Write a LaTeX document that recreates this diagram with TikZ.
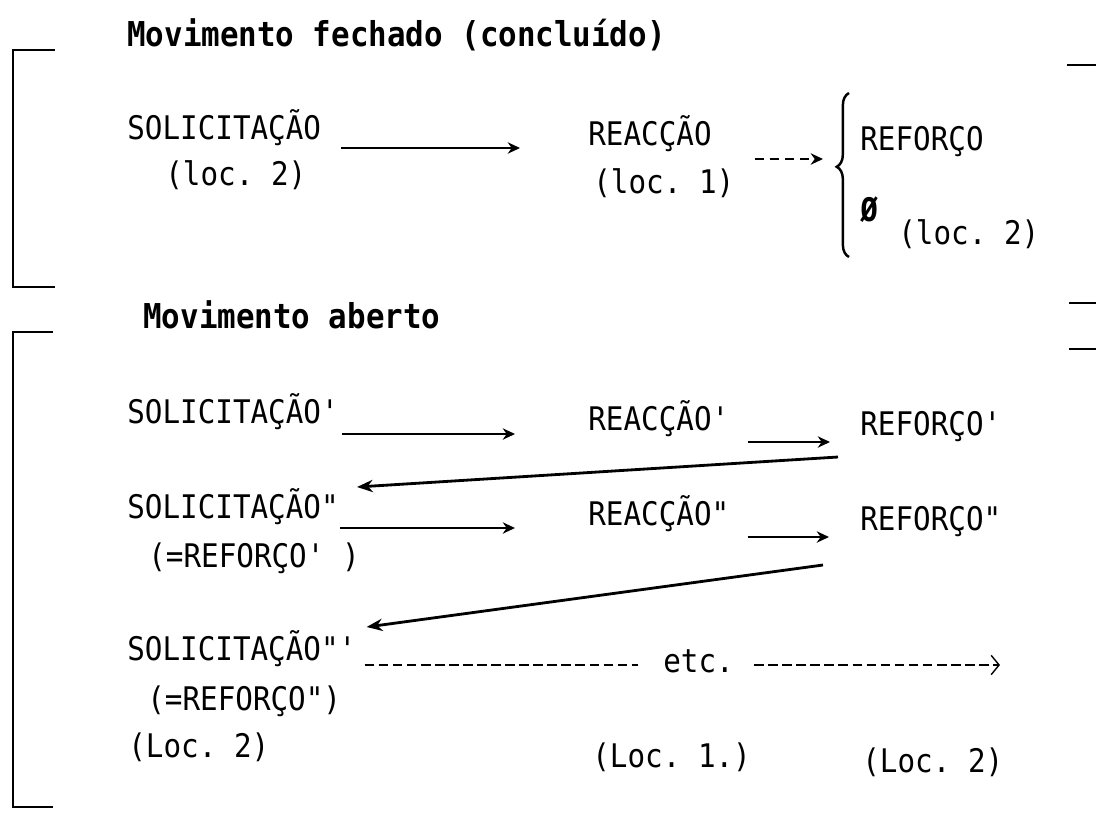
\documentclass[tikz,border=0pt]{standalone}
\usepackage{fontspec}
\setmonofont{DejaVu Sans Mono}[FakeStretch=0.9]
\usepackage{tikz}
\usetikzlibrary{arrows.meta,decorations.pathreplacing}

\begin{document}
\begin{tikzpicture}[x=0.02cm, y=-0.02cm, >=Stealth,
   font=\ttfamily\fontsize{18.5}{22}\selectfont,
   lbl/.style={anchor=base west, inner sep=0pt},
   hdr/.style={lbl, font=\ttfamily\bfseries\fontsize{19.5}{22}\selectfont},
   flow/.style={-{Stealth[length=7pt,width=6.5pt]}, line width=0.9pt},
   back/.style={-{Stealth[length=9pt,width=7pt]}, line width=1.6pt},
   dotflow/.style={flow, line width=1.2pt, dash pattern=on 5pt off 3.5pt},
   bracket/.style={line width=1.2pt}]
  \useasboundingbox (0,0) rectangle (1096,822);

  % closed movement
  \node[hdr] (hdr1) at (127,46) {Movimento fechado (concluído)};
  \node[lbl] (sol0) at (127,139) {SOLICITAÇÃO};
  \node[lbl] (loc0a) at (165,185) {(loc. 2)};
  \node[lbl] (rea0) at (588,145) {REACÇÃO};
  \node[lbl] (loc0b) at (593,193) {(loc. 1)};
  \node[lbl] (ref0) at (860,150) {REFORÇO};
  \node[lbl] (null) at (860,221) {\bfseries Ø};
  \node[lbl] (loc0c) at (898,244) {(loc. 2)};
  \draw[flow] ([shift={(20,9)}]sol0.base east) -- ([shift={(-68,3)}]rea0.base west);
  \draw[dotflow] ([shift={(43,14)}]rea0.base east) -- ([shift={(-37,9)}]ref0.base west);
  \draw[decorate, decoration={brace,amplitude=7pt,aspect=0.55}, line width=1.4pt] (849,257) -- (849,93);

  % open movement
  \node[hdr] (hdr2) at (143,328) {Movimento aberto};
  \node[lbl] (sol1) at (127,423) {SOLICITAÇÃO'};
  \node[lbl] (rea1) at (588,430) {REACÇÃO'};
  \node[lbl] (ref1) at (860,435) {REFORÇO'};
  \node[lbl] (sol2) at (127,518) {SOLICITAÇÃO"};
  \node[lbl] (eq2) at (148,567) {(=REFORÇO' )};
  \node[lbl] (rea2) at (588,525) {REACÇÃO"};
  \node[lbl] (ref2) at (860,530) {REFORÇO"};
  \node[lbl] (sol3) at (127,660) {SOLICITAÇÃO"'};
  \node[lbl] (eq3) at (147,710) {(=REFORÇO")};
  \node[lbl] (loc3a) at (128,757) {(Loc. 2)};
  \node[lbl] (etc) at (663,672) {etc.};
  \node[lbl] (loc3b) at (592,767) {(Loc. 1.)};
  \node[lbl] (loc3c) at (862,772) {(Loc. 2)};
  \coordinate (etcend) at (1000,665);

  \draw[flow] ([shift={(3,11)}]sol1.base east) -- ([shift={(-73,4)}]rea1.base west);
  \draw[flow] ([shift={(18,12)}]rea1.base east) -- ([shift={(-30,7)}]ref1.base west);
  \draw[back] ([shift={(-22,22)}]ref1.base west) -- ([shift={(18,-31)}]sol2.base east);
  \draw[flow] ([shift={(1,10)}]sol2.base east) -- ([shift={(-73,3)}]rea2.base west);
  \draw[flow] ([shift={(18,12)}]rea2.base east) -- ([shift={(-31,7)}]ref2.base west);
  \draw[back] ([shift={(-37,35)}]ref2.base west) -- ([shift={(10,-33)}]sol3.base east);
  \draw[line width=0.8pt, dash pattern=on 5.5pt off 2.5pt]
       ([shift={(8,5)}]sol3.base east) -- ([shift={(-25,-7)}]etc.base west);
  \draw[line width=0.8pt, dash pattern=on 5.5pt off 2.5pt, -{Straight Barb[length=4.5pt,width=11pt]}]
       ([shift={(20,-7)}]etc.base east) -- (etcend);

  % brackets
  \draw[bracket] (55,50) -- (13,50) -- (13,287) -- (55,287);
  \draw[bracket] (53,332) -- (13,332) -- (13,807) -- (53,807);
  \draw[bracket] (1067,65) -- (1096,65);
  \draw[bracket] (1069,303) -- (1096,303);
  \draw[bracket] (1069,349) -- (1096,349);
\end{tikzpicture}
\end{document}
